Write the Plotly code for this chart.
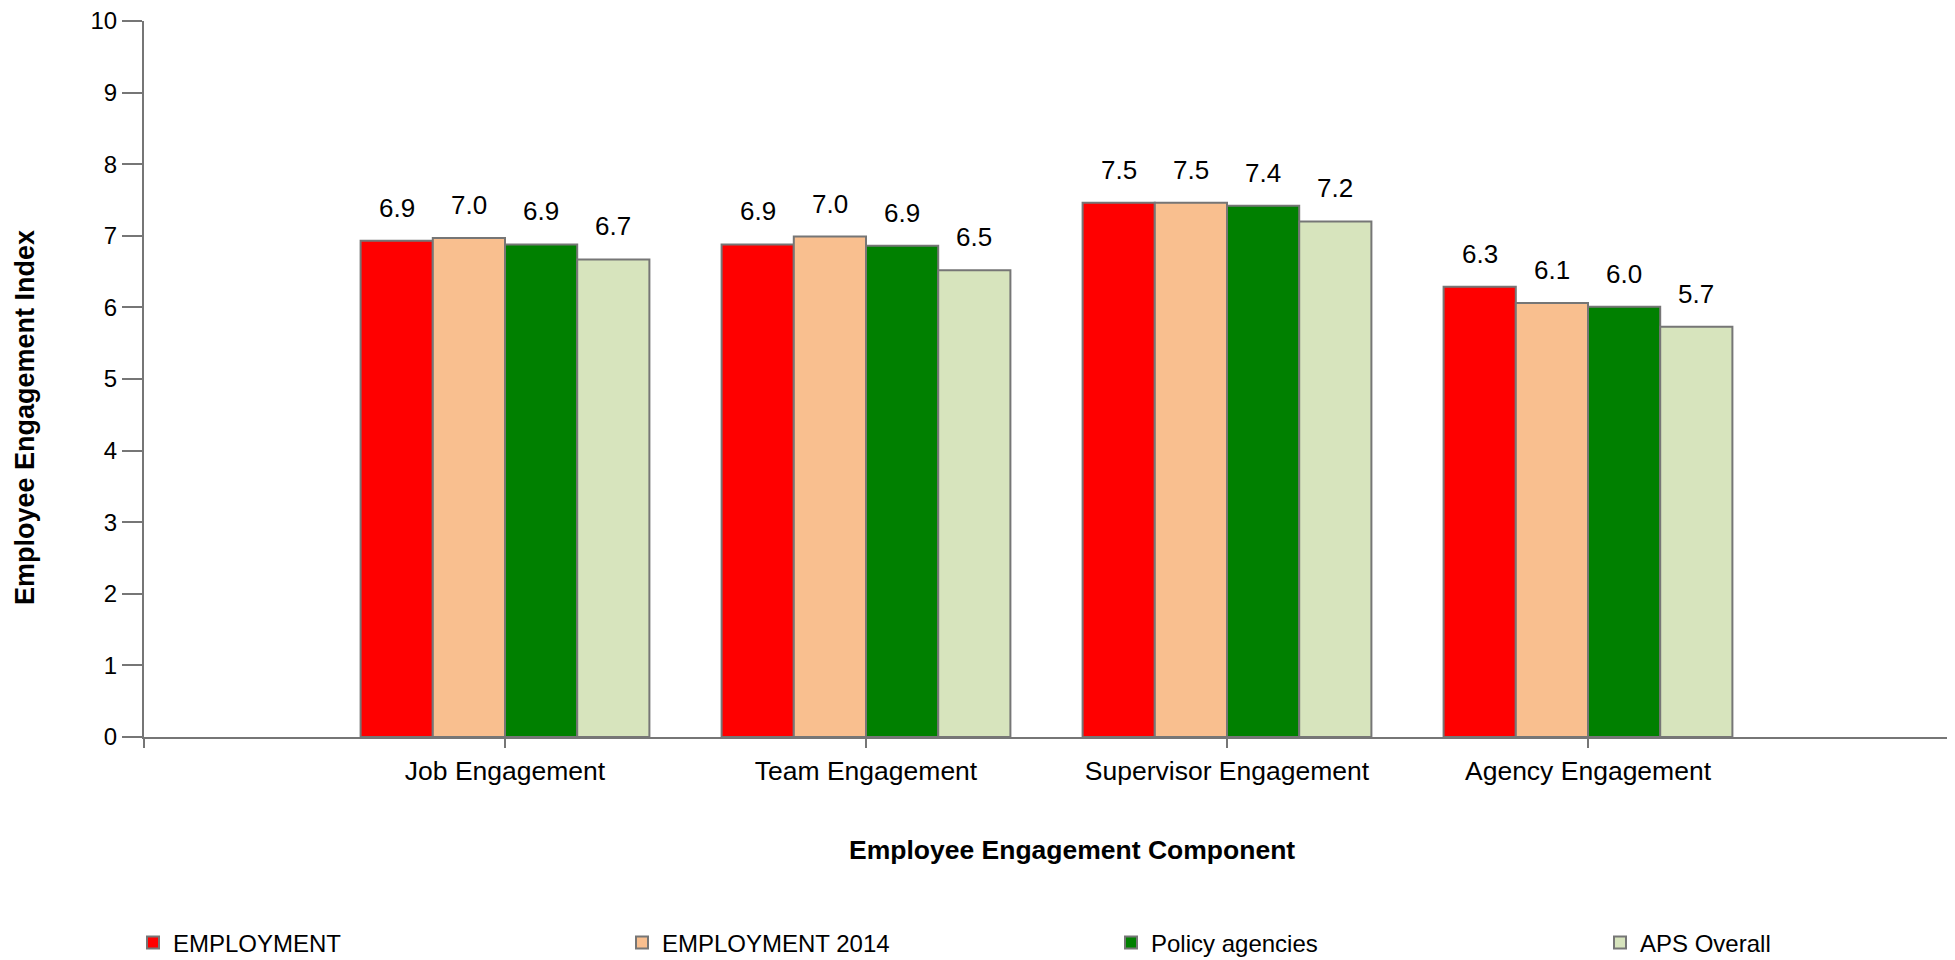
import plotly.graph_objects as go

categories = ["Job Engagement", "Team Engagement", "Supervisor Engagement", "Agency Engagement"]
series_names = ["EMPLOYMENT", "EMPLOYMENT 2014", "Policy agencies", "APS Overall"]
employment = [6.93, 6.88, 7.46, 6.29]
employment_2014 = [6.97, 6.99, 7.46, 6.06]
policy_agencies = [6.88, 6.86, 7.42, 6.01]
aps_overall = [6.67, 6.52, 7.20, 5.73]
series_values = [employment, employment_2014, policy_agencies, aps_overall]
colors = ["#ff0000", "#f9bf8f", "#008000", "#d7e4bd"]
y_ticks = [0, 1, 2, 3, 4, 5, 6, 7, 8, 9, 10]

FONT = "Arial, 'Liberation Sans', sans-serif"
GRAY = "#767676"
# page body has an 8px default margin; figure sized to fit the window
OFF = 8
W, H = 1955 - OFF, 960 - OFF
L, R, T, B = 144 - OFF, 6, 21 - OFF, 223
PW, PH = W - L - R, H - T - B
PX0, PY0 = L + OFF, T + OFF  # plot-area origin in page pixels


def px_to_paper_x(px):
    return (px - PX0) / PW


def px_to_paper_y(py):
    return (PY0 + PH - py) / PH


x_idx = list(range(len(categories)))
bargap = 0.2
n = len(series_values)
bw = (1 - bargap) / n

fig = go.Figure()
annotations = []
legend_names = ["legend", "legend2", "legend3", "legend4"]
for i, (name, vals, col) in enumerate(zip(series_names, series_values, colors)):
    fig.add_trace(go.Bar(
        x=x_idx, y=vals, name=name,
        marker=dict(color=col, line=dict(color=GRAY, width=2)),
        hoverinfo="y+name",
        legend=legend_names[i],
    ))
    off = (i - (n - 1) / 2) * bw
    for j, v in zip(x_idx, vals):
        annotations.append(dict(
            x=j + off, y=v, xref="x", yref="y", text=f"{v:.1f}",
            showarrow=False, yanchor="middle", yshift=33,
            font=dict(family=FONT, size=26, color="#000000"),
        ))

annotations.append(dict(
    text="<b>Employee Engagement Component</b>", xref="paper", yref="paper",
    x=px_to_paper_x(1072), y=px_to_paper_y(850),
    showarrow=False, xanchor="center", yanchor="middle",
    font=dict(family=FONT, size=26.5, color="#000000"),
))
annotations.append(dict(
    text="<b>Employee Engagement Index</b>", xref="paper", yref="paper",
    x=px_to_paper_x(25), y=px_to_paper_y(418),
    showarrow=False, xanchor="center", yanchor="middle", textangle=-90,
    font=dict(family=FONT, size=27, color="#000000"),
))

legend_text_x = [174, 663, 1152, 1641]  # page px where each legend label begins
legend_y_page = 943


def legend_cfg(text_x):
    return dict(
        orientation="h", xref="container", yref="container",
        x=(text_x - 41 - OFF) / W, y=1 - (legend_y_page - OFF) / H,
        xanchor="left", yanchor="middle",
        font=dict(family=FONT, size=24, color="#000000"),
        bgcolor="rgba(0,0,0,0)",
    )


fig.update_layout(
    width=W, height=H,
    margin=dict(l=L, r=R, t=T, b=B, autoexpand=False),
    paper_bgcolor="white", plot_bgcolor="white",
    barmode="group", bargap=bargap, bargroupgap=0,
    font=dict(family=FONT, size=24, color="#000000"),
    showlegend=True,
    legend=legend_cfg(legend_text_x[0]),
    legend2=legend_cfg(legend_text_x[1]),
    legend3=legend_cfg(legend_text_x[2]),
    legend4=legend_cfg(legend_text_x[3]),
    annotations=annotations,
    xaxis=dict(
        range=[-1, len(categories)],
        tickmode="array",
        tickvals=[-1] + x_idx + [len(categories)],
        ticktext=[""] + categories + [""],
        showline=True, linecolor=GRAY, linewidth=2,
        ticks="outside", ticklen=9, tickwidth=2, tickcolor=GRAY,
        showgrid=False, zeroline=False,
        tickfont=dict(family=FONT, size=26.5, color="#000000"),
        ticklabeloverflow="allow",
        fixedrange=True,
    ),
    yaxis=dict(
        range=[0, 10],
        tickmode="array", tickvals=y_ticks,
        showline=True, linecolor=GRAY, linewidth=2,
        ticks="outside", ticklen=20, tickwidth=2, tickcolor=GRAY,
        showgrid=False, zeroline=False,
        tickfont=dict(family=FONT, size=24, color="#000000"),
        ticklabeloverflow="allow",
        fixedrange=True,
    ),
)

fig.write_html("out.html")
